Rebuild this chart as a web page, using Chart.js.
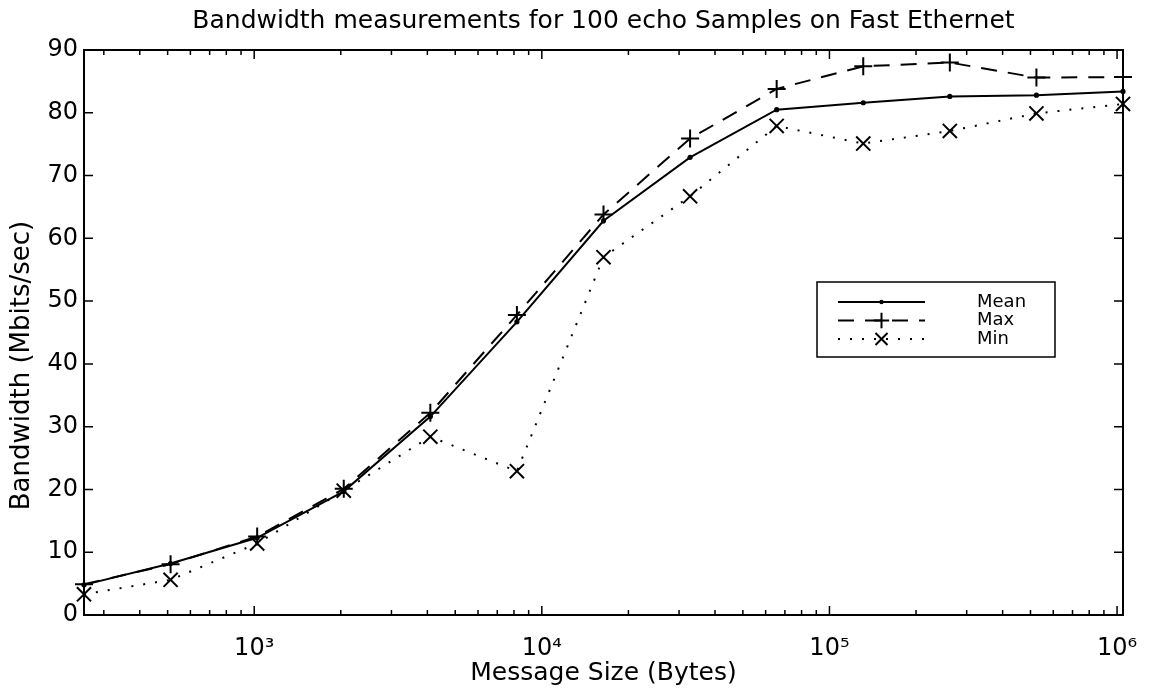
<!DOCTYPE html>
<html>
<head>
<meta charset="utf-8">
<script src="https://cdn.jsdelivr.net/npm/chart.js@4.4.1/dist/chart.umd.min.js"></script>
<style>
html,body{margin:0;padding:0;background:#fff;}
canvas{display:block;}
</style>
</head>
<body>
<canvas id="c" width="1151" height="696"></canvas>
<script>
// ---- data ----
const messageSizes  = [256, 512, 1024, 2048, 4096, 8192, 16384, 32768, 65536, 131072, 262144, 524288, 1048576];
const meanBandwidth = [4.8, 8.2, 12.3, 19.7, 31.6, 46.7, 62.8, 72.9, 80.5, 81.6, 82.6, 82.8, 83.4];
const maxBandwidth  = [4.9, 8.1, 12.5, 20.1, 32.2, 47.8, 63.8, 75.9, 83.8, 87.4, 88.0, 85.6, 85.7];
const minBandwidth  = [3.3, 5.6, 11.4, 19.8, 28.4, 22.9, 57.0, 66.7, 77.9, 75.1, 77.1, 79.9, 81.4];
const seriesNames   = ['Mean', 'Max', 'Min'];
const xTickValues   = [1e3, 1e4, 1e5, 1e6];
const xTickLabels   = ['10³', '10⁴', '10⁵', '10⁶'];
const yTickValues   = [0, 10, 20, 30, 40, 50, 60, 70, 80, 90];
const yTickLabels   = ['0', '10', '20', '30', '40', '50', '60', '70', '80', '90'];

const FONT = '"DejaVu Sans", "Liberation Sans", sans-serif';

function pts(vals) { return messageSizes.map((s, i) => ({x: s, y: vals[i]})); }

// MATLAB-style frame with inward ticks (positions from the chart's scales)
const framePlugin = {
  id: 'matlabFrame',
  afterDatasetsDraw(chart) {
    const {ctx, chartArea: a, scales: {x, y}} = chart;
    ctx.save();
    ctx.setLineDash([]);
    ctx.strokeStyle = '#000';
    ctx.lineWidth = 2;
    ctx.strokeRect(a.left, a.top, a.right - a.left, a.bottom - a.top);
    ctx.lineWidth = 1.5;
    ctx.beginPath();
    yTickValues.forEach(v => {
      const p = y.getPixelForValue(v);
      ctx.moveTo(a.left, p); ctx.lineTo(a.left + 9, p);
      ctx.moveTo(a.right, p); ctx.lineTo(a.right - 9, p);
    });
    xTickValues.forEach(v => {
      const p = x.getPixelForValue(v);
      ctx.moveTo(p, a.bottom); ctx.lineTo(p, a.bottom - 9);
      ctx.moveTo(p, a.top); ctx.lineTo(p, a.top + 9);
    });
    for (let e = 2; e <= 5; e++) {
      for (let m = 2; m <= 9; m++) {
        const v = m * Math.pow(10, e);
        if (v < x.min || v > x.max) continue;
        const p = x.getPixelForValue(v);
        ctx.moveTo(p, a.bottom); ctx.lineTo(p, a.bottom - 5);
        ctx.moveTo(p, a.top); ctx.lineTo(p, a.top + 5);
      }
    }
    ctx.stroke();
    ctx.restore();
  }
};

// Boxed inset legend, MATLAB style, built from the datasets
const insetLegendPlugin = {
  id: 'insetLegend',
  afterDraw(chart, args, opts) {
    const ctx = chart.ctx;
    ctx.save();
    ctx.strokeStyle = '#000';
    ctx.fillStyle = '#fff';
    ctx.lineWidth = 1.5;
    ctx.setLineDash([]);
    ctx.fillRect(opts.left, opts.top, opts.right - opts.left, opts.bottom - opts.top);
    ctx.strokeRect(opts.left, opts.top, opts.right - opts.left, opts.bottom - opts.top);
    chart.data.datasets.forEach((ds, i) => {
      const ry = opts.firstRow + i * opts.rowGap;
      ctx.save();
      ctx.strokeStyle = '#000';
      ctx.lineWidth = ds.borderWidth;
      ctx.setLineDash(ds.borderDash || []);
      ctx.beginPath();
      ctx.moveTo(opts.lineStart, ry);
      ctx.lineTo(opts.lineEnd, ry);
      ctx.stroke();
      ctx.setLineDash([]);
      ctx.fillStyle = '#000';
      ctx.lineWidth = ds.pointBorderWidth;
      Chart.helpers.drawPoint(ctx, {
        pointStyle: ds.pointStyle, radius: ds.pointRadius * 0.85,
        rotation: 0, borderWidth: ds.pointBorderWidth
      }, (opts.lineStart + opts.lineEnd) / 2, ry);
      ctx.restore();
      ctx.fillStyle = '#000';
      ctx.font = opts.fontSize + 'px ' + FONT;
      ctx.textBaseline = 'middle';
      ctx.textAlign = 'left';
      ctx.fillText(ds.label, opts.textX, ry);
    });
    ctx.restore();
  }
};

new Chart(document.getElementById('c'), {
  type: 'line',
  data: {
    datasets: [
      {
        label: seriesNames[0], data: pts(meanBandwidth),
        borderColor: '#000', backgroundColor: '#000', borderWidth: 2,
        pointStyle: 'circle', pointRadius: 2.6, pointBorderWidth: 0,
        pointBackgroundColor: '#000', pointBorderColor: '#000'
      },
      {
        label: seriesNames[1], data: pts(maxBandwidth),
        borderColor: '#000', backgroundColor: '#000', borderWidth: 2,
        borderDash: [16, 11],
        pointStyle: 'cross', pointRadius: 9, pointBorderWidth: 2,
        pointBorderColor: '#000', pointBackgroundColor: '#000'
      },
      {
        label: seriesNames[2], data: pts(minBandwidth),
        borderColor: '#000', backgroundColor: '#000', borderWidth: 2,
        borderDash: [2, 10],
        pointStyle: 'crossRot', pointRadius: 10, pointBorderWidth: 2,
        pointBorderColor: '#000', pointBackgroundColor: '#000'
      }
    ]
  },
  options: {
    responsive: false,
    animation: false,
    devicePixelRatio: 1,
    layout: {padding: {left: 0, right: 28, top: 0, bottom: 0}},
    datasets: {line: {clip: false, tension: 0, fill: false}},
    plugins: {
      legend: {display: false},
      tooltip: {enabled: false},
      title: {
        display: true,
        fullSize: false,
        text: 'Bandwidth measurements for 100 echo Samples on Fast Ethernet',
        color: '#000',
        font: {family: FONT, size: 25, weight: 'normal'},
        padding: {top: 6, bottom: 14}
      },
      insetLegend: {
        left: 817, top: 282, right: 1055, bottom: 357,
        lineStart: 838, lineEnd: 925, textX: 977,
        firstRow: 302, rowGap: 18.5, fontSize: 18
      }
    },
    scales: {
      x: {
        type: 'logarithmic',
        min: 256, max: 1048576,
        afterBuildTicks: s => { s.ticks = xTickValues.map(v => ({value: v})); },
        afterFit: s => { s.height = 81; s.paddingLeft = 0; s.paddingRight = 0; },
        grid: {display: false, drawTicks: false},
        border: {display: false},
        ticks: {
          autoSkip: false, maxRotation: 0, minRotation: 0, padding: 19,
          color: '#000', font: {family: FONT, size: 24},
          callback: (v, i) => xTickLabels[i]
        },
        title: {
          display: true, text: 'Message Size (Bytes)', color: '#000',
          font: {family: FONT, size: 25}, padding: {top: 0, bottom: 8}
        }
      },
      y: {
        min: 0, max: 90,
        afterBuildTicks: s => { s.ticks = yTickValues.map(v => ({value: v})); },
        afterFit: s => { s.width = 84; s.paddingTop = 0; s.paddingBottom = 0; },
        grid: {display: false, drawTicks: false},
        border: {display: false},
        ticks: {
          padding: 6, color: '#000', font: {family: FONT, size: 24},
          callback: (v, i) => yTickLabels[i]
        },
        title: {
          display: true, text: 'Bandwidth (Mbits/sec)        ', color: '#000',
          font: {family: FONT, size: 26}, padding: {top: 7, bottom: 0}
        }
      }
    }
  },
  plugins: [framePlugin, insetLegendPlugin]
});
</script>
</body>
</html>
